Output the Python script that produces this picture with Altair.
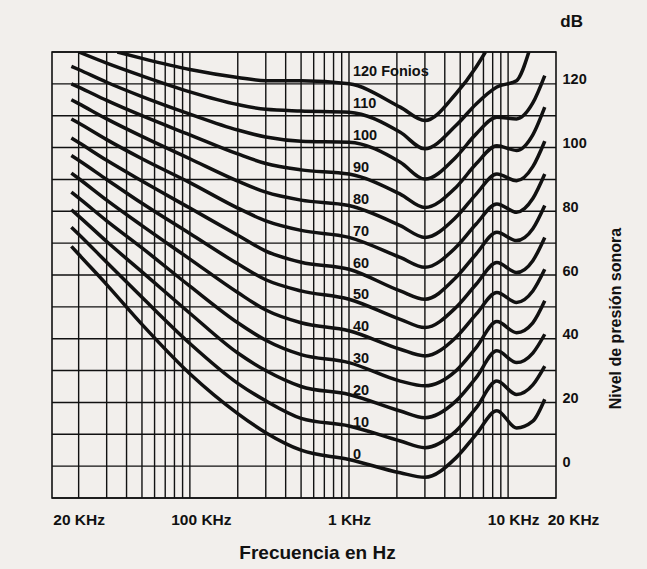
import altair as alt
import pandas as pd

# Equal-loudness contours (phon) - frequency in Hz vs sound pressure level in dB
FREQ_HZ = [18, 20, 30, 50, 100, 200, 300, 500, 1000, 2100, 3000, 4700, 6300, 8500, 11300, 14300, 17000]

PHON_0 = [69, 66.5, 57, 44.5, 29, 16.5, 10.5, 5, 2.1, -2.1, -3.5, 2.6, 10, 17.4, 12, 14.1, 21]
PHON_10 = [75, 72.8, 64, 53, 38.5, 26, 20.5, 15, 12.6, 7.9, 5.8, 11, 18.3, 26.7, 22.5, 25.5, 31.4]
PHON_20 = [80.5, 78.5, 70.5, 61, 48, 35.5, 30, 25, 22.5, 17.3, 15.2, 20.4, 27.8, 36.2, 32.5, 35.5, 41.4]
PHON_30 = [86, 84.2, 77, 68.5, 56.5, 45, 39.5, 35, 32.5, 26.7, 25.2, 29.9, 37.2, 45.4, 41.9, 45, 51.9]
PHON_40 = [92, 90.3, 83.5, 75.5, 65, 54.5, 49, 45, 42.5, 36.7, 34.6, 40.4, 47.7, 54.5, 51.4, 55, 61.8]
PHON_50 = [97.5, 96, 90, 82.5, 73, 63.5, 58.5, 55, 52.4, 46.1, 43.5, 49.8, 57.1, 63.9, 60.8, 64.5, 71.8]
PHON_60 = [103, 101.6, 96, 89.5, 81, 72.5, 67.5, 64, 61.8, 55, 52.4, 59.2, 66.6, 73.4, 70.8, 74.5, 81.8]
PHON_70 = [109, 107.7, 102.5, 96.5, 89, 81, 77, 74, 71.8, 65.5, 62.4, 68.7, 76, 82.3, 79.7, 84, 91.7]
PHON_80 = [115, 113.8, 109, 103.5, 96.5, 89.5, 86, 83.5, 81.8, 75.5, 71.8, 78.1, 85.4, 91.7, 89.6, 94, 102]
PHON_90 = [120, 119, 114.8, 110, 104, 98, 95, 93, 91.7, 85.4, 81.2, 87.5, 94.9, 100.6, 99.1, 104, 112.7]
PHON_100 = [125.5, 124.5, 120.5, 116, 110.5, 105.5, 103.3, 102, 101.7, 95.4, 90.1, 97, 104.3, 109.5, 109, 114, 122.6]
PHON_110 = [None, 130, 126.5, 122.5, 117.5, 113.5, 112, 111.5, 111.1, 104.8, 99.6, 106.9, 113.7, 119, 121, None, None]
PHON_120 = [None, None, None, 128, 124.5, 122, 121, 121, 120, 112.7, 108.5, 116.9, 125.3, None, None, None, None]

# points where the two loudest contours leave through the top of the frame
EDGE_PHON = [120, 120, 110]
EDGE_HZ = [35, 7200, 13500]
EDGE_DB = [130, 130, 130]

CONTOURS = {
    0: PHON_0, 10: PHON_10, 20: PHON_20, 30: PHON_30, 40: PHON_40,
    50: PHON_50, 60: PHON_60, 70: PHON_70, 80: PHON_80, 90: PHON_90,
    100: PHON_100, 110: PHON_110, 120: PHON_120,
}

# contour labels, written just above each curve at 1 kHz
LABEL_PHON = [0, 10, 20, 30, 40, 50, 60, 70, 80, 90, 100, 110, 120]
LABEL_TEXT = ["0", "10", "20", "30", "40", "50", "60", "70", "80", "90", "100", "110", "120 Fonios"]
LABEL_HZ = 1000

# grid
GRID_HZ = [20, 30, 40, 50, 60, 70, 80, 90, 100,
           200, 300, 400, 500, 600, 700, 800, 900, 1000,
           2000, 3000, 4000, 5000, 6000, 7000, 8000, 9000, 10000]
GRID_DB = list(range(-10, 131, 10))

# axis ticks
X_TICK_HZ = [20, 100, 1000, 10000, 20000]
X_TICK_TEXT = ["20 KHz", "100 KHz", "1 KHz", "10 KHz", "20 KHz"]
X_TICK_SHIFT = [0, 11, 0, 5, 17]
Y_TICK_DB = [0, 20, 40, 60, 80, 100, 120]

rows = []
for phon, values in CONTOURS.items():
    for hz, db in zip(FREQ_HZ, values):
        if db is not None:
            rows.append({"phon": phon, "hz": hz, "db": db})
for phon, hz, db in zip(EDGE_PHON, EDGE_HZ, EDGE_DB):
    rows.append({"phon": phon, "hz": hz, "db": db})
curves_df = pd.DataFrame(rows)

labels_df = pd.DataFrame({"phon": LABEL_PHON, "text": LABEL_TEXT, "hz": LABEL_HZ})
vgrid_df = pd.DataFrame({"hz": GRID_HZ})
hgrid_df = pd.DataFrame({"db": GRID_DB})

FONT = "Liberation Sans"
INK = "#111111"
PAPER = "#f2efec"

x_scale = alt.Scale(type="log", domain=[13.6, 20000], nice=False)
y_scale = alt.Scale(domain=[-10, 130], nice=False)

label_expr = " : ".join(
    f"datum.value == {v} ? '{t}'" for v, t in zip(X_TICK_HZ, X_TICK_TEXT)
) + " : ''"

x_axis = alt.Axis(
    values=X_TICK_HZ,
    labelExpr=label_expr,
    labelFont=FONT,
    labelFontSize=15.5,
    labelFontWeight="bold",
    labelColor=INK,
    labelPadding=14,
    labelOverlap=False,
    labelFlush=False,
    labelOffset={
        "condition": [
            {"test": f"datum.value == {v}", "value": s}
            for v, s in zip(X_TICK_HZ, X_TICK_SHIFT) if s
        ],
        "value": 0,
    },
    ticks=False,
    domain=False,
    grid=False,
    title="Frecuencia en Hz",
    titleFont=FONT,
    titleFontSize=19,
    titleFontWeight="bold",
    titleColor=INK,
    titleX=265,
    titleY=54,
    titleBaseline="middle",
    titleAlign="center",
)

y_axis = alt.Axis(
    orient="right",
    values=Y_TICK_DB,
    labelFont=FONT,
    labelFontSize=14.5,
    labelFontWeight="bold",
    labelColor=INK,
    labelPadding=6,
    labelOffset=-4,
    labelAlign="left",
    ticks=False,
    domain=False,
    grid=False,
    title="Nivel de presión sonora",
    titleFont=FONT,
    titleFontSize=16,
    titleFontWeight="bold",
    titleColor=INK,
    titleAngle=270,
    titleX=59,
    titleY=266,
    titleAlign="center",
    titleBaseline="middle",
)

def xenc(field):
    return alt.X(f"{field}:Q", scale=x_scale, axis=x_axis)

def yenc(field):
    return alt.Y(f"{field}:Q", scale=y_scale, axis=y_axis)

vgrid = alt.Chart(vgrid_df).mark_rule(color=INK, strokeWidth=1.4).encode(x=xenc("hz"))
hgrid = alt.Chart(hgrid_df).mark_rule(color=INK, strokeWidth=1.4).encode(y=yenc("db"))

curves = alt.Chart(curves_df).mark_line(
    color=INK, strokeWidth=3.5, interpolate="monotone", clip=True
).encode(
    x=xenc("hz"),
    y=yenc("db"),
    detail="phon:N",
)

labels = alt.Chart(labels_df).mark_text(
    align="left", baseline="middle", dx=4, dy=-11.5,
    font=FONT, fontSize=14.5, fontWeight="bold", color=INK,
).encode(
    x=xenc("hz"),
    y=yenc("phon"),
    text="text:N",
)

chart = alt.layer(vgrid, hgrid, curves, labels).properties(
    width=504,
    height=446,
    autosize=alt.AutoSizeParams(type="none"),
    padding={"left": 52, "top": 52, "right": 91, "bottom": 71},
    background=PAPER,
    title=alt.TitleParams(
        "dB", anchor="end", frame="group", dx=27, offset=7, baseline="alphabetic",
        font=FONT, fontSize=17, fontWeight="bold", color=INK,
    ),
).configure_view(
    stroke=INK, strokeWidth=1.6, fill=PAPER,
)

chart.save("out.html", embed_options={"renderer": "svg", "actions": False})
